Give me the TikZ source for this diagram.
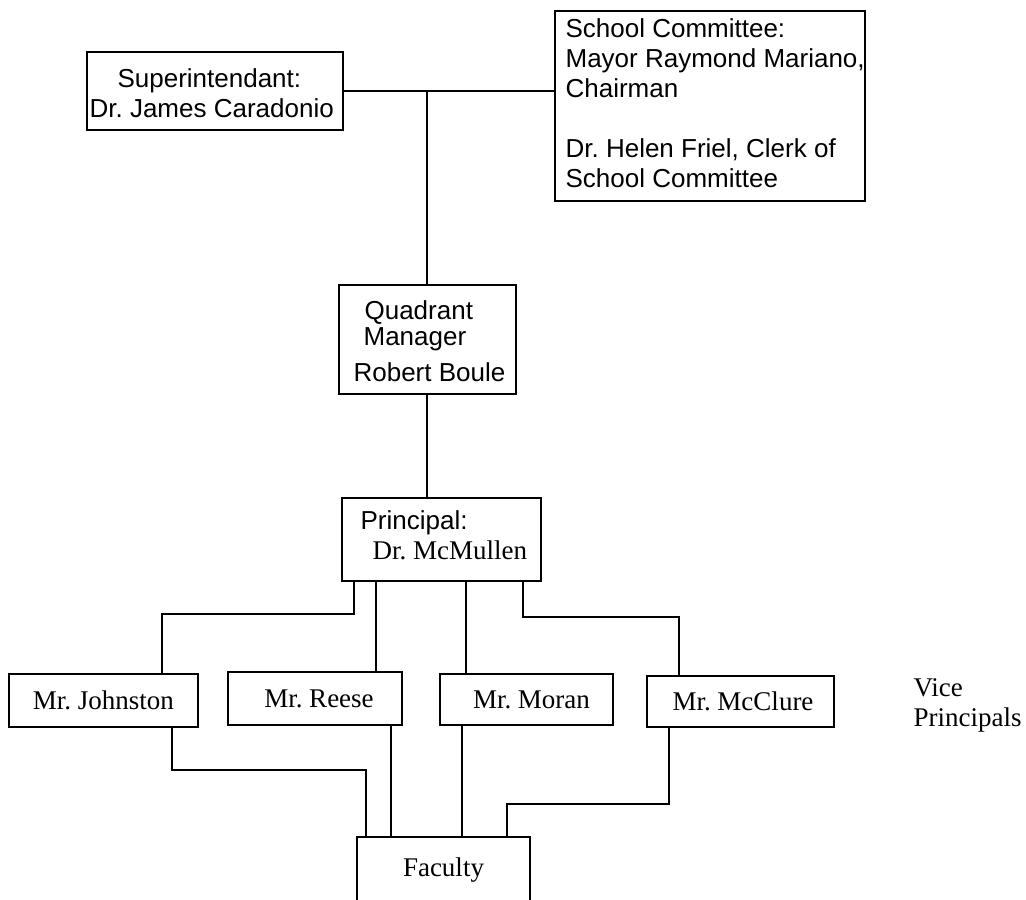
\documentclass[tikz,border=0pt]{standalone}
\usepackage{fontspec}
\setmainfont{Liberation Serif}
\newfontfamily\sansfont{Liberation Sans}
\begin{document}
\frenchspacing
\begin{tikzpicture}[x=1pt,y=-1pt,line width=1.2pt,
    box/.style={draw,inner sep=0pt,outer sep=0pt},
    txt/.style={anchor=north west,inner sep=0pt,align=left},
    sans/.style={font=\sansfont\fontsize{26}{30}\selectfont},
    serif/.style={font=\fontsize{27}{30}\selectfont}]
      \clip (0,0) rectangle (1026,900);
      \node[box,minimum width=256,minimum height=78] (sup) at (215,91) {};
      \node[box,minimum width=310,minimum height=190] (comm) at (710,106) {};
      \node[box,minimum width=177,minimum height=109] (quad) at (427.5,339.5) {};
      \node[box,minimum width=199,minimum height=83] (prin) at (441.5,539.5) {};
      \node[txt,sans] (suptext) at ([shift={(2,16)}]sup.north west)
        {\hspace*{28pt}Superintendant:\\Dr. James Caradonio};
      \node[txt,sans] (commtext) at ([shift={(10,7)}]comm.north west)
        {School Committee:\\Mayor Raymond Mariano,\\Chairman\\[30pt]Dr. Helen Friel, Clerk of\\School Committee};
      \node[txt,sans,font=\sansfont\fontsize{26}{26}\selectfont] (quadtext) at ([shift={(14,15)}]quad.north west)
        {\hspace*{11pt}Quadrant\\\hspace*{10pt}Manager\\[10pt]Robert Boule};
      \node[txt,sans] (printext) at ([shift={(18,12)}]prin.north west)
        {Principal:\\{\rmfamily\fontsize{27}{30}\selectfont\hspace*{12pt}Dr. McMullen}};
      \node[box,serif,minimum width=189,minimum height=53] (john) at (103.5,700.5) {Mr. Johnston};
      \node[box,serif,minimum width=174,minimum height=53] (reese) at (315,698.5) {\hspace*{8pt}Mr. Reese};
      \node[box,serif,minimum width=173,minimum height=51] (moran) at (526.5,699.5) {\hspace*{10pt}Mr. Moran};
      \node[box,serif,minimum width=187,minimum height=51] (mccl) at (740.5,701.5) {\hspace*{5pt}Mr. McClure};
      \node[box,serif,minimum width=173,minimum height=66] (fac) at (443.5,870) {Faculty};
      \node[serif,align=left,anchor=west,inner sep=0pt] (vp) at (913,705) {Vice\\Principals};
      % board to quadrant manager
      \coordinate (j) at (sup.east -| 427,0);
      \draw (sup.east) -- (sup.east -| comm.west);
      \draw (j) -- (j |- quad.north);
      \draw (j |- quad.south) -- (j |- prin.north);
      % principal to vice principals
      \coordinate (p1) at ([xshift=12pt]prin.south west);
      \coordinate (p2) at ([xshift=34pt]prin.south west);
      \coordinate (p3) at ([xshift=124pt]prin.south west);
      \coordinate (p4) at ([xshift=181pt]prin.south west);
      \coordinate (jb) at (162,614);
      \coordinate (mb) at (679,617);
      \draw (p1) |- (jb) -- (jb |- john.north);
      \draw (p2) -- (p2 |- reese.north);
      \draw (p3) -- (p3 |- moran.north);
      \draw (p4) |- (mb) -- (mb |- mccl.north);
      % vice principals to faculty
      \coordinate (q1) at ([xshift=163pt]john.south west);
      \coordinate (q2) at ([xshift=163pt]reese.south west);
      \coordinate (q3) at ([xshift=22pt]moran.south west);
      \coordinate (q4) at ([xshift=22pt]mccl.south west);
      \coordinate (f1) at ([xshift=9pt]fac.north west);
      \coordinate (f4) at ([xshift=150pt]fac.north west);
      \draw (q1) -- ++(0,43) -| (f1);
      \draw (q2) -- (q2 |- fac.north);
      \draw (q3) -- (q3 |- fac.north);
      \draw (q4) -- ++(0,77) -| (f4);
    \end{tikzpicture}
\end{document}
